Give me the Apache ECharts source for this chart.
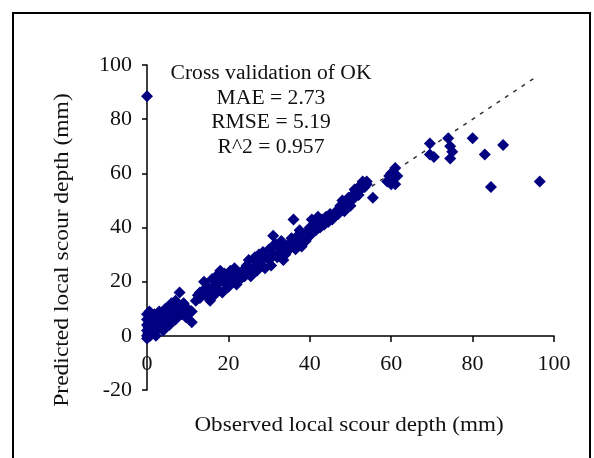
<!DOCTYPE html>
<html>
<head>
<meta charset="utf-8">
<script src="https://cdn.jsdelivr.net/npm/echarts@6/dist/echarts.min.js"></script>
<style>
  html, body { margin: 0; padding: 0; background: #fff; }
  #chart { width: 594px; height: 458px; }
</style>
</head>
<body>
<div id="chart"></div>
<script>
// observed vs predicted local scour depth (mm)
const observed = [
  0, 0, 0, 0, 0, 0, 0.3, 0.4, 0.5, 0.6, 0.8, 1, 1, 1, 1.2, 1.4, 1.5, 1.8, 2, 2, 2.2, 2.5, 2.8, 3, 3, 3.5, 4, 4, 4,
  4.5, 5, 5, 5.5, 5.5, 6, 6, 6.5, 7, 7, 7.5, 8, 8, 8.5, 9, 9, 9.5, 10, 10, 11, 11,
  12, 12.5, 13, 13, 14, 14, 14.5, 15, 15.5, 16, 16, 16.5, 17, 17, 17.5, 18, 18, 18.5, 19, 19, 19.5, 20, 20, 20.5,
  21, 21.5, 22, 22, 23, 23.5, 24, 24.5, 25, 25, 25.5, 26, 26.5, 27, 27, 27.5, 28, 28, 28.5, 29, 29, 30, 30, 30.5,
  31, 31, 31.5, 32, 32, 33, 33, 33.5, 34, 34, 35, 35, 35.5, 36, 36, 36.5, 37, 37, 37.5, 38, 38, 39, 39, 40, 40,
  40.5, 41, 41.5, 42, 42, 42.5, 43, 43.5, 44, 44.5, 45, 45.5, 46, 46.5, 47, 47.5, 48, 48, 48.5, 49, 49.5, 50, 50,
  50.5, 51, 51, 51.5, 52, 52, 52.5, 53, 53, 53.5, 54, 54, 55.5,
  59, 59.5, 60, 60, 60.5, 61, 61, 61.5,
  69.5, 69.5, 70.5, 74, 74.5, 75, 74.5, 80, 83, 84.5, 87.5, 96.5, 0
];
const predicted = [
  0, 2, 4, 6, 8, -1, 1, 3, 5, 9, 0, 2, 4, 7, 1, 5, 3, 8, 2, 6, 0, 4, 7, 3, 9, 5, 2, 6, 8,
  10, 5, 8, 11, 4, 7, 12, 9, 13, 6, 10, 16, 11, 8, 12, 9, 7, 10, 8, 5, 9,
  13, 15, 16, 14, 17, 20, 15, 18, 13, 17, 21, 15, 19, 22, 17, 20, 24, 16, 21, 23, 19, 18, 22, 24,
  21, 25, 19, 23, 21, 24, 22, 26, 24, 28, 22, 25, 29, 27, 24, 30, 26, 28, 31, 25, 29, 28, 32, 26,
  37, 30, 34, 29, 33, 31, 35, 28, 33, 30, 34, 32, 36, 43, 35, 32, 37, 34, 39, 36, 33, 38, 35, 40, 37,
  43, 41, 39, 44, 42, 40, 43, 41, 44, 42, 45, 43, 44, 46, 45, 48, 47, 50, 46, 49, 51, 50, 48,
  52, 51, 54, 53, 55, 52, 54, 56, 57, 55, 57, 56, 51,
  57, 59, 56, 60, 58, 62, 56, 59,
  71, 67, 66, 73, 70, 68, 65.5, 73, 67, 55, 70.5, 57, 88.5
];
const refLine = [[0, 0], [95, 95]];
const statLines = ['Cross validation of OK', 'MAE = 2.73', 'RMSE = 5.19', 'R^2 = 0.957'];
const xName = 'Observed local scour depth (mm)';
const yName = 'Predicted local scour depth (mm)';

const points = observed.map((x, i) => [x, predicted[i]]);
const font = '"Liberation Serif", "Times New Roman", serif';

const chart = echarts.init(document.getElementById('chart'));

chart.setOption({
  animation: false,
  backgroundColor: '#fff',
  grid: { left: 147, right: 40, top: 65, bottom: 68 },
  xAxis: {
    type: 'value',
    min: 0, max: 100, interval: 20,
    // excel-style axis crossing at y = 0 (20 of 120 units above the grid bottom)
    offset: -54,
    splitLine: { show: false },
    axisLine: { onZero: false, lineStyle: { color: '#000', width: 1.5 } },
    axisTick: { length: 6, lineStyle: { color: '#000', width: 1.5 } },
    axisLabel: { color: '#111', fontFamily: font, fontSize: 22, margin: 17 }
  },
  yAxis: {
    type: 'value',
    min: -20, max: 100, interval: 20,
    splitLine: { show: false },
    axisLine: { show: true, lineStyle: { color: '#000', width: 1.5 } },
    axisTick: { show: true, length: 5, lineStyle: { color: '#000', width: 1.5 } },
    axisLabel: { color: '#111', fontFamily: font, fontSize: 22, margin: 15 }
  },
  graphic: [
    { type: 'rect', shape: { x: 13, y: 13, width: 577, height: 470 },
      style: { fill: 'none', stroke: '#000', lineWidth: 2 }, silent: true },
    { type: 'text', x: 62, y: 250, rotation: Math.PI / 2, scaleX: 1.12,
      style: { text: yName, font: '21px ' + font, fill: '#111', align: 'center', verticalAlign: 'middle' } },
    { type: 'text', x: 349, y: 425, scaleX: 1.1,
      style: { text: xName, font: '21px ' + font, fill: '#111', align: 'center', verticalAlign: 'middle' } },
    ...statLines.map((t, i) => ({
      type: 'text', x: 271, y: 74 + i * 24.6, scaleX: 1.08,
      style: { text: t, font: '20px ' + font, fill: '#111', align: 'center', verticalAlign: 'middle' }
    }))
  ],
  series: [
    {
      type: 'line',
      data: refLine,
      symbol: 'none',
      z: 1,
      lineStyle: { color: '#333', width: 1.5, type: [4, 6] }
    },
    {
      type: 'scatter',
      data: points,
      symbol: 'diamond',
      symbolSize: 12,
      z: 2,
      itemStyle: { color: '#000080', opacity: 1 }
    }
  ]
});
</script>
</body>
</html>
